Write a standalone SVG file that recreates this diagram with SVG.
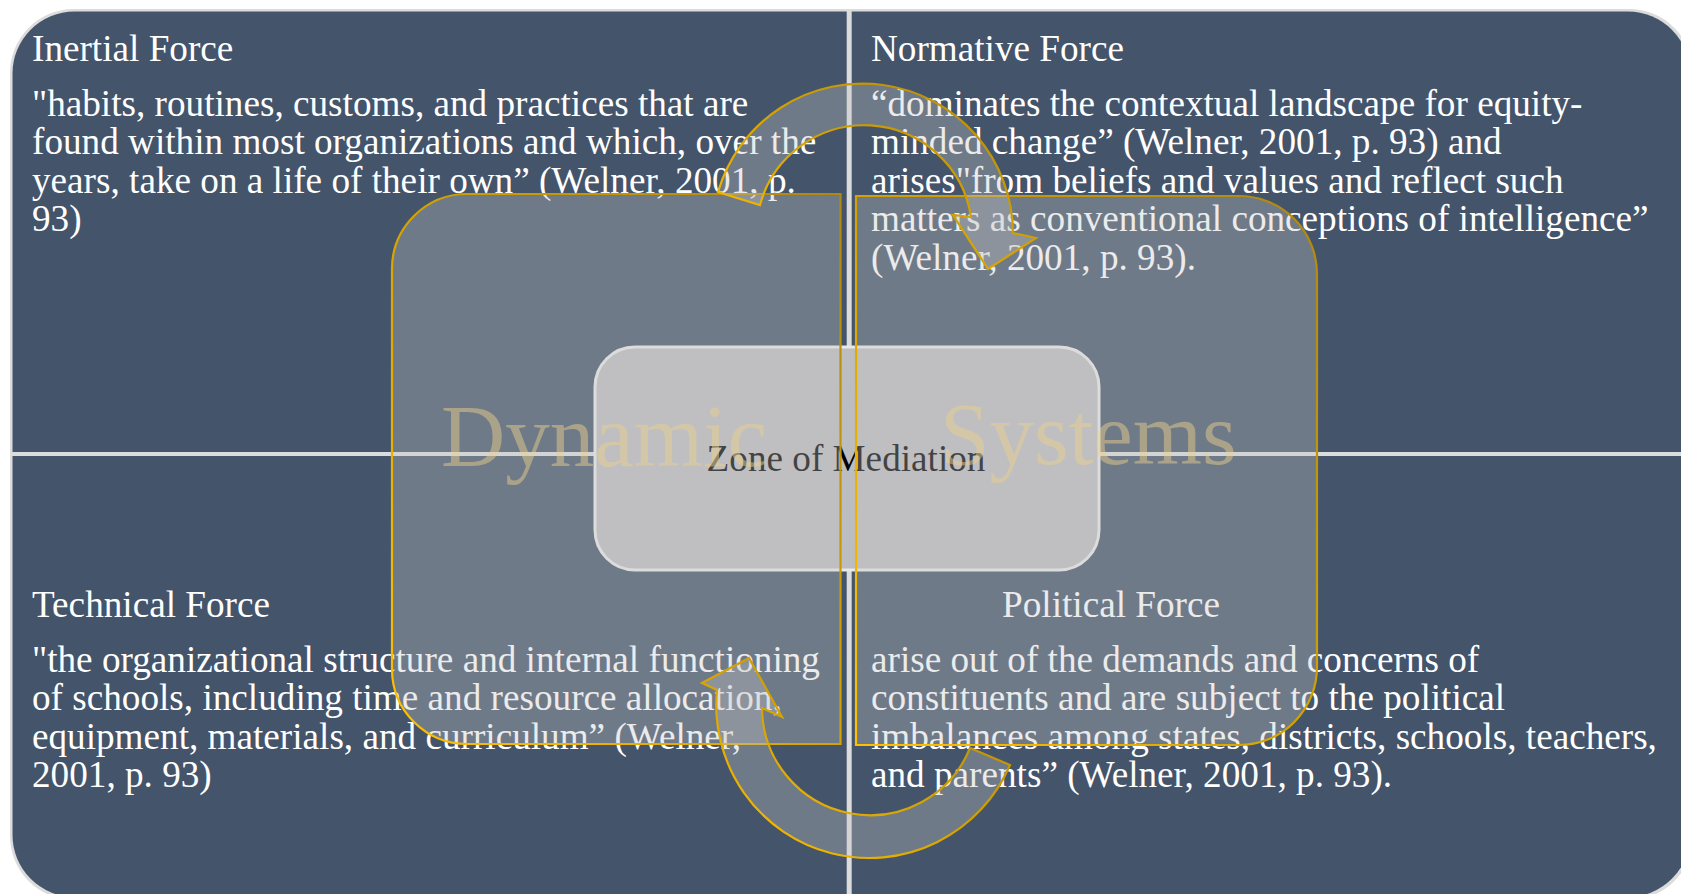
<svg xmlns="http://www.w3.org/2000/svg" width="1681" height="894" viewBox="0 0 1681 894">
  <defs>
    <style>
      text { font-family: "Liberation Serif", "Times New Roman", serif; }
      .quad { fill: #44546a; }
      .t { fill: #ffffff; font-size: 37.2px; }
      .zone { fill: #bcbdc1; stroke: #e8e8e8; stroke-width: 3; }
      .zt { fill: #000000; font-size: 37.2px; }
      .cyc { fill: #c4c4c4; fill-opacity: 0.34; stroke: url(#gold); stroke-width: 2.2; }
      .big { fill: #ead28a; fill-opacity: 0.48; font-size: 89px; }
    </style>
    <linearGradient id="gold" x1="1" y1="0" x2="0" y2="1">
      <stop offset="0" stop-color="#b08810"/>
      <stop offset="0.5" stop-color="#d4a200"/>
      <stop offset="1" stop-color="#ffc000"/>
    </linearGradient>
  </defs>

  <rect x="0" y="0" width="1681" height="894" fill="#ffffff"/>
  <rect id="frame" x="10" y="9" width="1683" height="891" rx="64" fill="#dcdcdc"/>

  <g id="inertial">
    <path class="quad" d="M12.5,452 V73.5 A62,62 0 0 1 74.5,11.5 H846.7 V452 Z"/>
    <text class="t" x="32" y="60.5">Inertial Force</text>
    <text class="t" x="32" y="115.5">"habits, routines, customs, and practices that are</text>
    <text class="t" x="32" y="154.1">found within most organizations and which, over the</text>
    <text class="t" x="32" y="192.7">years, take on a life of their own” (Welner, 2001, p.</text>
    <text class="t" x="32" y="231.3">93)</text>
  </g>

  <g id="normative">
    <path class="quad" d="M851.7,11.5 H1628 A62,62 0 0 1 1690,73.5 V452 H851.7 Z"/>
    <text class="t" x="871" y="60.5">Normative Force</text>
    <text class="t" x="871" y="115.5">“dominates the contextual landscape for equity-</text>
    <text class="t" x="871" y="154.1">minded change” (Welner, 2001, p. 93) and</text>
    <text class="t" x="871" y="192.7">arises"from beliefs and values and reflect such</text>
    <text class="t" x="871" y="231.3">matters as conventional conceptions of intelligence”</text>
    <text class="t" x="871" y="269.9">(Welner, 2001, p. 93).</text>
  </g>

  <g id="technical">
    <path class="quad" d="M12.5,456 H846.7 V897 H74.5 A62,62 0 0 1 12.5,835 Z"/>
    <text class="t" x="32" y="617">Technical Force</text>
    <text class="t" x="32" y="671.5">"the organizational structure and internal functioning</text>
    <text class="t" x="32" y="710.1">of schools, including time and resource allocation,</text>
    <text class="t" x="32" y="748.7">equipment, materials, and curriculum” (Welner,</text>
    <text class="t" x="32" y="787.3">2001, p. 93)</text>
  </g>

  <g id="political">
    <path class="quad" d="M851.7,456 H1690 V835 A62,62 0 0 1 1628,897 H851.7 Z"/>
    <text class="t" x="1111" y="617" text-anchor="middle">Political Force</text>
    <text class="t" x="871" y="671.5">arise out of the demands and concerns of</text>
    <text class="t" x="871" y="710.1">constituents and are subject to the political</text>
    <text class="t" x="871" y="748.7">imbalances among states, districts, schools, teachers,</text>
    <text class="t" x="871" y="787.3">and parents” (Welner, 2001, p. 93).</text>
  </g>

  <g id="zone">
    <rect class="zone" x="595" y="347" width="504" height="223" rx="40"/>
    <text class="zt" x="846" y="471" text-anchor="middle">Zone of Mediation</text>
  </g>

  <g id="cycle-left">
    <path class="cyc" d="M840.5,194 V744 H467 A75,75 0 0 1 392,669 V269 A75,75 0 0 1 467,194 Z"/>
  </g>
  <g id="cycle-right">
    <path class="cyc" d="M856,196 H1239 A78,78 0 0 1 1317,274 V667 A78,78 0 0 1 1239,745 H856 Z"/>
  </g>

  <g id="connectors">
    <path class="cyc" d="M718,192 A150.5,150.5 0 0 1 1013,233 L1036,238 L988,269 L953,215 L971,217 A108,108 0 0 0 760,205 Z"/>
    <path class="cyc" d="M1010,765 A153,153 0 0 1 717,690 L702,683 L749,658 L782,717 L762,708 A108,108 0 0 0 970,748 Z"/>
  </g>

  <g id="cycle-label">
    <text class="big" x="441" y="466">Dynamic</text>
    <text class="big" x="940" y="464">Systems</text>
  </g>
</svg>
